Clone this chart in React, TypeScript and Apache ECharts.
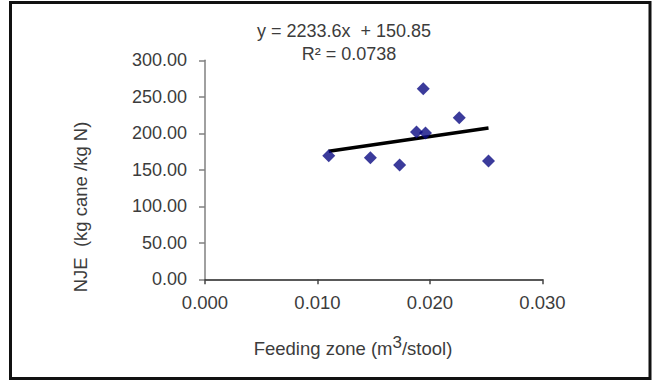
import React, { useEffect, useRef } from "react";
import * as echarts from "echarts";

const feedingZone = [0.011, 0.0147, 0.0173, 0.0188, 0.0196, 0.0194, 0.0226, 0.0252];
const nje = [169.3, 166.6, 156.6, 201.8, 200.4, 261.1, 221.4, 162.1];
const trendSlope = 2233.6;
const trendIntercept = 150.85;
const equationText = "y = 2233.6x  + 150.85";
const r2Text = "R\u00b2 = 0.0738";
const yTitle = "NJE  (kg cane /kg N)";

const FONT = "'Liberation Sans', Arial, sans-serif";
const TEXT = "#3c3c3c";

export default function App() {
  const ref = useRef<HTMLDivElement>(null);
  useEffect(() => {
    if (!ref.current) return;
    const chart = echarts.init(ref.current, null, { renderer: "svg" });
    const points = feedingZone.map((x, i) => [x, nje[i]]);
    const xMin = Math.min(...feedingZone);
    const xMax = Math.max(...feedingZone);
    const trend = [
      [xMin, trendSlope * xMin + trendIntercept],
      [xMax, trendSlope * xMax + trendIntercept],
    ];
    chart.setOption({
      animation: false,
      backgroundColor: "#ffffff",
      textStyle: { fontFamily: FONT },
      grid: { left: 205, right: 110.5, top: 60.3, bottom: 101.7 },
      xAxis: {
        type: "value",
        min: 0,
        max: 0.03,
        interval: 0.01,
        splitLine: { show: false },
        axisLine: { show: true, lineStyle: { color: "#222", width: 1.5 } },
        axisTick: { show: true, length: 5, lineStyle: { color: "#444", width: 1.5 } },
        axisLabel: {
          color: TEXT,
          fontSize: 18.5,
          fontFamily: FONT,
          margin: 14,
          formatter: (v: number) => v.toFixed(3),
        },
      },
      yAxis: {
        type: "value",
        min: 0,
        max: 300,
        interval: 50,
        splitLine: { show: false },
        axisLine: { show: true, lineStyle: { color: "#808080", width: 1.5 } },
        axisTick: { show: true, length: 6, lineStyle: { color: "#808080", width: 1.5 } },
        axisLabel: {
          color: TEXT,
          fontSize: 18,
          fontFamily: FONT,
          margin: 18,
          formatter: (v: number) => v.toFixed(2),
        },
      },
      series: [
        {
          type: "scatter",
          data: points,
          symbol: "diamond",
          symbolSize: 13,
          itemStyle: { color: "#0a0a82" },
          z: 3,
        },
        {
          type: "line",
          data: trend,
          symbol: "none",
          lineStyle: { color: "#000", width: 3.5 },
          z: 2,
        },
      ],
      graphic: [
        {
          type: "rect",
          shape: { x: 10.5, y: 2.5, width: 639.5, height: 376 },
          style: { fill: "none", stroke: "#111", lineWidth: 3 },
          silent: true,
        },
        {
          type: "text",
          x: 344,
          y: 31,
          style: {
            text: equationText,
            fill: TEXT,
            font: `18px ${FONT}`,
            align: "center",
            verticalAlign: "middle",
          },
        },
        {
          type: "text",
          x: 349,
          y: 54,
          style: {
            text: r2Text,
            fill: TEXT,
            font: `18px ${FONT}`,
            align: "center",
            verticalAlign: "middle",
          },
        },
        {
          type: "text",
          x: 353,
          y: 346,
          style: {
            text: "{a|Feeding zone (m}{s|3}{a|/stool)}",
            align: "center",
            verticalAlign: "middle",
            rich: {
              a: { fontSize: 18.5, fontFamily: FONT, fill: TEXT, color: TEXT, lineHeight: 24, verticalAlign: "bottom" },
              s: { fontSize: 17, fontFamily: FONT, fill: TEXT, color: TEXT, lineHeight: 18, verticalAlign: "top" },
            },
          },
        },
        {
          type: "text",
          x: 80,
          y: 207,
          rotation: Math.PI / 2,
          style: {
            text: yTitle,
            fill: TEXT,
            font: `18.5px ${FONT}`,
            align: "center",
            verticalAlign: "middle",
          },
        },
      ],
    });
    return () => chart.dispose();
  }, []);
  return (
    <div
      ref={ref}
      style={{ position: "fixed", left: 0, top: 0, width: 653, height: 381, background: "#fff" }}
    />
  );
}
